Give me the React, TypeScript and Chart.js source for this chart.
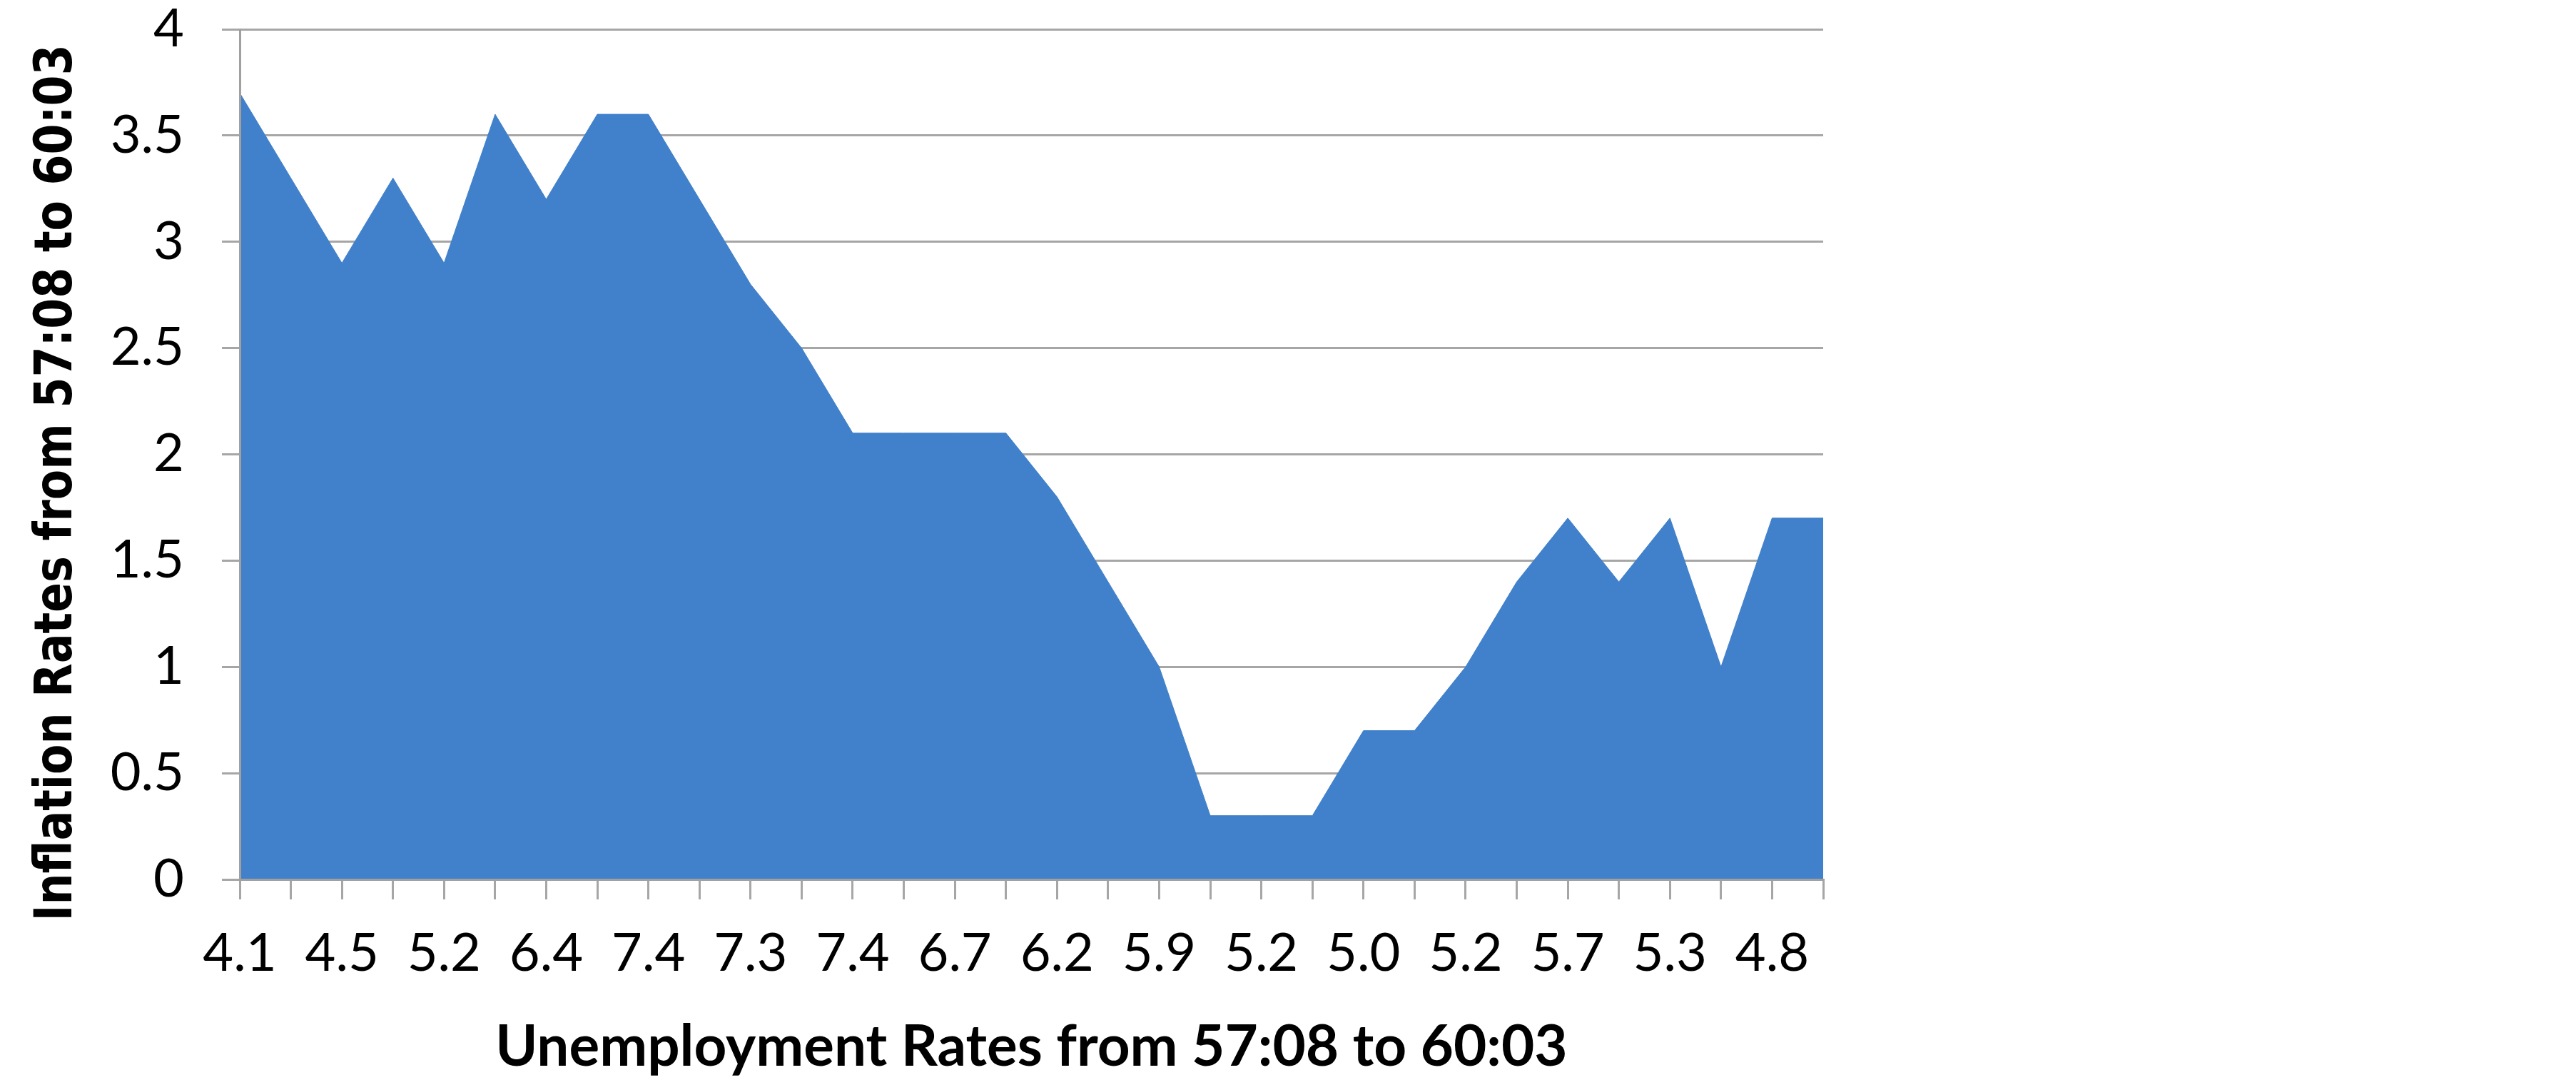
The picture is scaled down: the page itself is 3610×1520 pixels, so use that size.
import React, { useEffect, useRef } from "react";
import { Chart, registerables } from "chart.js";

Chart.register(...registerables);

// Unemployment rate for each month, 1957:08 .. 1960:03 (category axis; every other one is labelled)
const unemploymentRates = [
  "4.1", "4.4", "4.5", "5.1", "5.2", "5.8", "6.4", "6.7", "7.4", "7.4", "7.3", "7.5",
  "7.4", "7.1", "6.7", "6.2", "6.2", "6.0", "5.9", "5.6", "5.2", "5.1", "5.0", "5.1",
  "5.2", "5.5", "5.7", "5.8", "5.3", "5.2", "4.8", "5.4",
];

// Inflation rate for each month
const inflationRates = [
  3.7, 3.3, 2.9, 3.3, 2.9, 3.6, 3.2, 3.6, 3.6, 3.2, 2.8, 2.5,
  2.1, 2.1, 2.1, 2.1, 1.8, 1.4, 1.0, 0.3, 0.3, 0.3, 0.7, 0.7,
  1.0, 1.4, 1.7, 1.4, 1.7, 1.0, 1.7, 1.7,
];

const yMin = 0;
const yMax = 4;
const yStep = 0.5;

const xAxisTitle = "Unemployment Rates from 57:08 to 60:03";
const yAxisTitle = "Inflation Rates from 57:08 to 60:03";

const W = 3610;
const H = 1520;
const FILL = "#4180CA";
const GRID = "#A6A6A6";
const AXIS = "#A0A0A0";

const yTitlePlugin = {
  id: "yTitleText",
  afterDraw(chart: any) {
    const ctx = chart.ctx as CanvasRenderingContext2D;
    const area = chart.chartArea;
    ctx.save();
    ctx.font = 'bold 73px "DejaVu Sans"';
    const w = ctx.measureText(yAxisTitle).width;
    const targetLen = 1228;
    ctx.translate(100, (area.top + area.bottom) / 2 + 40);
    ctx.rotate(-Math.PI / 2);
    ctx.scale(targetLen / w, 1);
    ctx.textAlign = "center";
    ctx.textBaseline = "alphabetic";
    ctx.fillStyle = "#000";
    ctx.fillText(yAxisTitle, 0, 0);
    ctx.restore();
  },
};

export default function App() {
  const ref = useRef<HTMLCanvasElement | null>(null);

  useEffect(() => {
    document.body.style.margin = "0";
    document.body.style.overflow = "hidden";
    const canvas = ref.current!;
    const chart = new Chart(canvas, {
      type: "line",
      data: {
        labels: unemploymentRates,
        datasets: [
          {
            data: inflationRates,
            fill: "origin",
            backgroundColor: FILL,
            borderColor: FILL,
            borderWidth: 1,
            pointRadius: 0,
            tension: 0,
          },
        ],
      },
      options: {
        animation: false,
        responsive: false,
        devicePixelRatio: 1,
        layout: { padding: { left: 0, top: 41, right: W - 2555, bottom: 0 } },
        plugins: {
          legend: { display: false },
          tooltip: { enabled: false },
        },
        scales: {
          x: {
            type: "category",
            offset: false,
            grid: {
              display: true,
              drawOnChartArea: false,
              drawTicks: true,
              tickLength: 28,
              color: GRID,
              lineWidth: 3,
            },
            border: { display: true, color: AXIS, width: 3, z: 1 },
            ticks: {
              autoSkip: false,
              maxRotation: 0,
              minRotation: 0,
              padding: 39,
              color: "#000",
              font: { family: "Lato", size: 74, lineHeight: 1 },
              callback: (_v: any, i: number) => (i % 2 === 0 ? unemploymentRates[i] : ""),
            },
            title: {
              display: true,
              text: xAxisTitle,
              color: "#000",
              font: { family: "Lato", size: 80, weight: "bold", lineHeight: 1 },
              padding: { top: 0, bottom: 13 },
            },
            afterFit: (s: any) => {
              s.height = H - 1232;
            },
          },
          y: {
            min: yMin,
            max: yMax,
            grid: {
              color: GRID,
              lineWidth: 3,
              drawTicks: true,
              tickLength: 25,
            },
            border: { display: true, color: AXIS, width: 3, z: 1 },
            ticks: {
              stepSize: yStep,
              padding: 53,
              color: "#000",
              font: { family: "Lato", size: 74, lineHeight: 1 },
              callback: (v: any) => String(v),
            },
            afterFit: (s: any) => {
              s.width = 336;
              s.paddingTop = 0;
              s.paddingBottom = 0;
            },
          },
        },
      },
      plugins: [yTitlePlugin],
    } as any);
    return () => chart.destroy();
  }, []);

  return (
    <div style={{ width: W, height: H, background: "#fff" }}>
      <canvas ref={ref} width={W} height={H} style={{ display: "block" }} />
    </div>
  );
}
